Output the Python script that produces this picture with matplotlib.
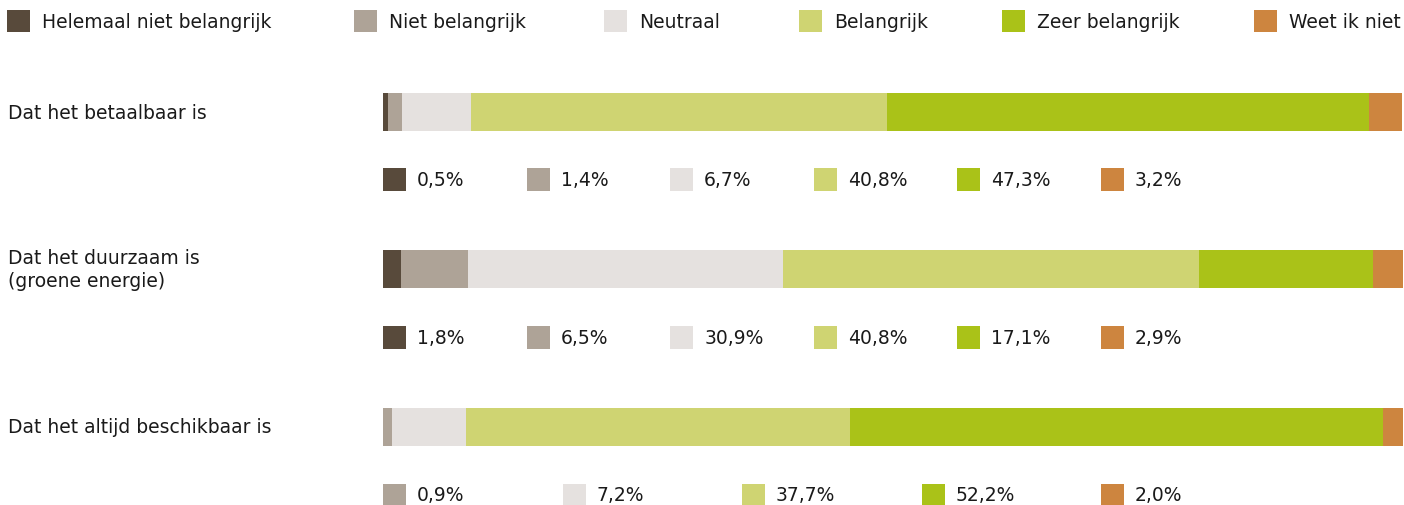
"""Stacked 100% bars: importance of energy aspects."""

import matplotlib.pyplot as plt
from matplotlib.patches import Rectangle

plt.rcParams["font.family"] = ["DejaVu Sans"]

# Data
categories = ["Helemaal niet belangrijk", "Niet belangrijk", "Neutraal",
              "Belangrijk", "Zeer belangrijk", "Weet ik niet"]
colors = ["#584a3b", "#aea397", "#e5e1df", "#cfd472", "#aac218", "#cd853f"]
questions = ["Dat het betaalbaar is", "Dat het duurzaam is\n(groene energie)",
             "Dat het altijd beschikbaar is"]
betaalbaar = [0.5, 1.4, 6.7, 40.8, 47.3, 3.2]
duurzaam = [1.8, 6.5, 30.9, 40.8, 17.1, 2.9]
beschikbaar = [0.0, 0.9, 7.2, 37.7, 52.2, 2.0]
series = [betaalbaar, duurzaam, beschikbaar]

W, H = 1404, 506
fig = plt.figure(figsize=(W / 100, H / 100), dpi=100)

# overlay in pixel coordinates for texts and square markers
ov = fig.add_axes([0, 0, 1, 1])
ov.set_xlim(0, W)
ov.set_ylim(H, 0)
ov.axis("off")

# bar axes
bx = fig.add_axes([383 / W, 0, (1403 - 383) / W, 1])
bx.set_xlim(0, 100)
bx.set_ylim(H, 0)
bx.axis("off")

bar_y = [113, 270, 428]
lab_y = [180.5, 338, 496]
fs = 13.5
txt = "#1a1a1a"

# top legend
leg_x = [7, 354, 604, 799, 1002, 1254]
for x, cat, c in zip(leg_x, categories, colors):
    ov.add_patch(Rectangle((x, 11), 23, 22, color=c, lw=0))
    ov.text(x + 35, 22.5, cat, fontsize=fs, va="center", ha="left", color=txt)

for q, vals, yb, yl in zip(questions, series, bar_y, lab_y):
    ov.text(8, yb, q, fontsize=fs, va="center", ha="left", color=txt,
            linespacing=1.3)
    left = 0
    for v, c in zip(vals, colors):
        if v > 0:
            bx.barh(yb, v, left=left, height=38, color=c, lw=0)
        left += v
    shown = [(v, c) for v, c in zip(vals, colors) if v > 0]
    step = (1101 - 383) / (len(shown) - 1)
    for k, (v, c) in enumerate(shown):
        x = 383 + k * step
        ov.add_patch(Rectangle((x, yl - 11.5), 23, 23, color=c, lw=0))
        ov.text(x + 34, yl, f"{v:.1f}%".replace(".", ","), fontsize=fs,
                va="center", ha="left", color=txt)

plt.savefig("out.png", dpi=100)
